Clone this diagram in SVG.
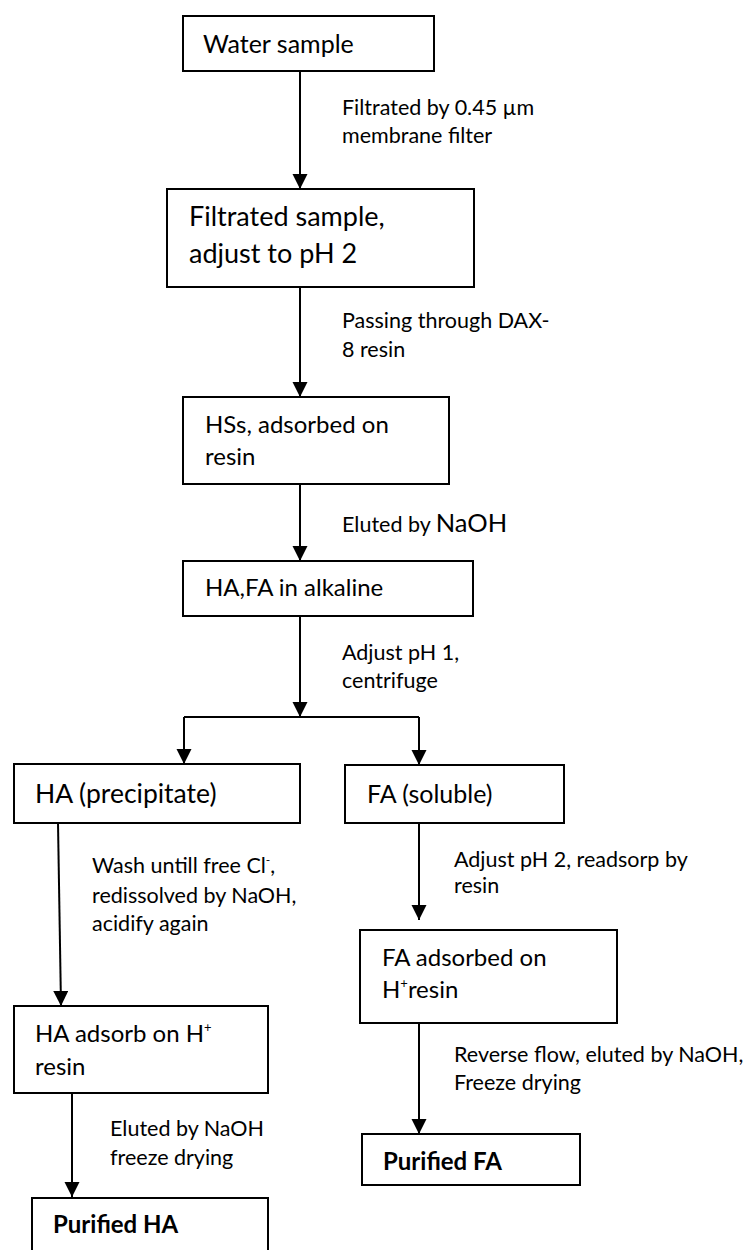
<svg xmlns="http://www.w3.org/2000/svg" width="753" height="1250" viewBox="0 0 753 1250">
<style>
.box{fill:#fff;stroke:#000;stroke-width:2}
.bx{font-family:Lato,"Liberation Sans",sans-serif;font-size:24px;fill:#000}
.lb{font-family:Lato,"Liberation Sans",sans-serif;font-size:21.5px;fill:#000}
.bd{font-family:Lato,"Liberation Sans",sans-serif;font-size:24px;font-weight:bold;fill:#000}
.ln{fill:none;stroke:#000;stroke-width:2}
</style>
<defs>
<marker id="ah" markerUnits="userSpaceOnUse" markerWidth="16" markerHeight="16" refX="15" refY="7.5" orient="auto">
<path d="M0,0 L15,7.5 L0,15 Z" fill="#000"/>
</marker>
</defs>
<rect width="753" height="1250" fill="#fff"/>
<g id="connectors">
<path class="ln" d="M300,71 V189" marker-end="url(#ah)"/>
<path class="ln" d="M300,287 V397" marker-end="url(#ah)"/>
<path class="ln" d="M300,484 V561" marker-end="url(#ah)"/>
<path class="ln" d="M300,616 V717" marker-end="url(#ah)"/>
<path class="ln" d="M184,717 H419"/>
<path class="ln" d="M184,717 V764" marker-end="url(#ah)"/>
<path class="ln" d="M419,717 V765" marker-end="url(#ah)"/>
<path class="ln" d="M58,823 L61,1006" marker-end="url(#ah)"/>
<path class="ln" d="M72,1093 V1197" marker-end="url(#ah)"/>
<path class="ln" d="M419,823 V920" marker-end="url(#ah)"/>
<path class="ln" d="M419,1023 V1134" marker-end="url(#ah)"/>
<text class="lb" x="342" y="115">Filtrated by 0.45 µm</text>
<text class="lb" x="342" y="143">membrane filter</text>
<text class="lb" x="342" y="328">Passing through DAX-</text>
<text class="lb" x="342" y="357">8 resin</text>
<text class="lb" x="342" y="532">Eluted by <tspan style="font-size:25.5px">NaOH</tspan></text>
<text class="lb" x="342" y="660">Adjust pH 1,</text>
<text class="lb" x="342" y="688">centrifuge</text>
<text class="lb" x="92" y="873">Wash untill free Cl<tspan dy="-9" style="font-size:12px">-</tspan><tspan dy="9">,</tspan></text>
<text class="lb" x="92" y="903">redissolved by NaOH,</text>
<text class="lb" x="92" y="931">acidify again</text>
<text class="lb" x="110" y="1136">Eluted by NaOH</text>
<text class="lb" x="110" y="1165">freeze drying</text>
<text class="lb" x="454" y="867">Adjust pH 2, readsorp by</text>
<text class="lb" x="454" y="893">resin</text>
<text class="lb" x="454" y="1062">Reverse flow, eluted by NaOH,</text>
<text class="lb" x="454" y="1090">Freeze drying</text>
</g>
<g id="water-sample">
<rect class="box" x="183" y="16" width="251" height="55"/>
<text class="bx" x="203" y="53" style="font-size:25px">Water sample</text>
</g>
<g id="filtrated-sample">
<rect class="box" x="167" y="189" width="307" height="98"/>
<text class="bx" x="189" y="226" style="font-size:27px">Filtrated sample,</text>
<text class="bx" x="189" y="263" style="font-size:27px">adjust to pH 2</text>
</g>
<g id="hss-adsorbed">
<rect class="box" x="183" y="397" width="266" height="87"/>
<text class="bx" x="205" y="433">HSs, adsorbed on</text>
<text class="bx" x="205" y="465">resin</text>
</g>
<g id="ha-fa-alkaline">
<rect class="box" x="183" y="561" width="290" height="55"/>
<text class="bx" x="205" y="596">HA,FA in alkaline</text>
</g>
<g id="ha-precipitate">
<rect class="box" x="14" y="764" width="286" height="59"/>
<text class="bx" x="35" y="803" style="font-size:26.5px">HA (precipitate)</text>
</g>
<g id="fa-soluble">
<rect class="box" x="345" y="765" width="219" height="58"/>
<text class="bx" x="367" y="803" style="font-size:25px">FA (soluble)</text>
</g>
<g id="ha-adsorb">
<rect class="box" x="14" y="1006" width="254" height="87"/>
<text class="bx" x="35" y="1042">HA adsorb on H<tspan dy="-10" style="font-size:13px">+</tspan></text>
<text class="bx" x="35" y="1075">resin</text>
</g>
<g id="fa-adsorbed">
<rect class="box" x="360" y="930" width="257" height="93"/>
<text class="bx" x="382" y="966">FA adsorbed on</text>
<text class="bx" x="382" y="998">H<tspan dy="-10" style="font-size:13px">+</tspan><tspan dy="10">resin</tspan></text>
</g>
<g id="purified-fa">
<rect class="box" x="362" y="1134" width="218" height="51"/>
<text class="bd" x="383" y="1170">Purified FA</text>
</g>
<g id="purified-ha">
<rect class="box" x="32" y="1198" width="236" height="60"/>
<text class="bd" x="53" y="1233">Purified HA</text>
</g>
</svg>
